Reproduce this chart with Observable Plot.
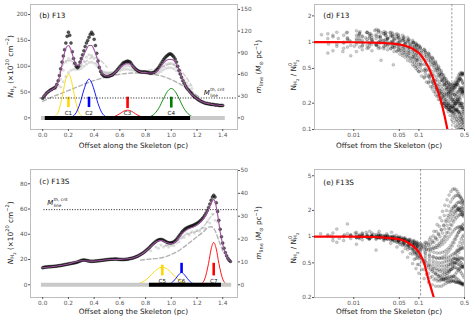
<!DOCTYPE html>
<html>
<head>
<meta charset="utf-8">
<script src="https://cdn.jsdelivr.net/npm/d3@7"></script>
<script src="https://cdn.jsdelivr.net/npm/@observablehq/plot@0.6"></script>
<style>
  html, body { margin: 0; padding: 0; background: #fff; }
  #fig { position: relative; width: 473px; height: 319px; overflow: hidden; background: #fff; }
  #fig svg { position: absolute; }
</style>
</head>
<body>
<div id="fig"></div>
<script>
// ================= DATA =================
// ---- (b) F13: column density along the skeleton ----
const bXTicks = [0, 0.2, 0.4, 0.6, 0.8, 1.0, 1.2, 1.4];
const bNTicks = [0, 50, 100, 150, 200];
const bMTicks = [0, 30, 60, 90, 120, 150];
const bNperM = 1.40;
const bProfileStart = 0.0, bProfileStep = 0.01;
const bProfileN = [38,42,45,48,50,52,54,55,57,58, 60,65,72,82,95,108,120,132,145,158, 166,160,145,128,115,106,100,97,100,108,
  115,122,130,138,145,150,156,162,166,162, 152,140,125,110,98,90,85,82,81,80, 80,80,81,82,83,85,87,90,93,96,
  99,102,105,107,108,109,110,109,108,105, 101,98,95,93,91,90,89,89,89,89, 89,88,88,87,87,87,88,89,91,94,
  97,101,105,109,113,116,119,121,123,124, 123,121,118,114,108,100,92,85,78,72, 67,62,58,55,52,49,46,43,41,39,
  37,35,34,32,31,30,29,28,28,27, 27,26,26,26,25,25,25,24,24,24, 24];
const bFitStart = 0.0, bFitStep = 0.02;
const bFitN = [40,45,50,53,56,60,70,90,115,135, 140,132,115,103,102,110,122,133,140,140, 132,118,100,88,82,81,81,83,87,92,
  97,101,104,105,104,100,95,91,89,88, 88,87,87,87,89,93,100,106,111,113, 113,111,104,93,80,68,58,51,45,41,
  37,34,31,29,28,27,26,25,25,24, 24];
const bGray1Start = 0.10, bGray1Step = 0.02;
const bGray1N = [56,62,75,92,108,115,112,104,98,97, 102,110,118,122,121,115,106,96,90,87, 86,86,87,89,92,95,98,100,101,100,
  97,94,92,91,90,90,89,88,88,89, 91,95,100,104,106,106,104,98,90,80, 70,62,55,50,45,41];
const bGray2Start = 0.14, bGray2Step = 0.02;
const bGray2N = [60,70,80,88,92,94,94,94,96,100, 104,107,108,106,101,95,91,89,88,88, 88,89,90,91,93,94,94,93,92,91,
  90,89,88,87,86,85,85,86,88,90, 93,96,97,97,95,91,86,80,74,68, 62,57];
const bDash1X = [0.0,0.05,0.15,0.25,0.35,0.45,0.55,0.65,0.75,0.85,0.95,1.05,1.15,1.22];
const bDash1N = [32,38,48,58,68,76,82,86,87,85,79,68,52,40];
const bDash2X = [0.13,0.16,0.19,0.24,0.29,0.34,0.39,0.44,0.5];
const bDash2N = [88,104,111,108,104,110,118,113,98];
const bDash3X = [0.82,0.88,0.94,1.0,1.05,1.1,1.16];
const bDash3N = [92,95,100,104,98,84,62];
const bComps = ["C1", "C2", "C3", "C4"];
const bCompCenter = [0.2, 0.36, 0.66, 1.0];
const bCompX = [
  [0.06,0.08,0.1,0.12,0.14,0.16,0.18,0.2,0.22,0.24,0.26,0.28,0.3,0.32,0.34],
  [0.2,0.23,0.26,0.29,0.32,0.345,0.36,0.375,0.4,0.43,0.46,0.49,0.52],
  [0.48,0.52,0.56,0.6,0.63,0.66,0.69,0.72,0.76,0.8,0.84],
  [0.78,0.82,0.86,0.9,0.94,0.97,1.0,1.03,1.06,1.1,1.14,1.18,1.22]];
const bCompN = [
  [0,1,4,11,28,52,75,85,75,52,28,11,4,1,0],
  [0.5,2.5,10,28,54,71,75,71,54,28,10,2.5,0.5],
  [0.2,0.6,2.9,8.1,12.9,15,12.9,8.1,2.9,0.6,0.2],
  [0.2,1.3,5.9,17.6,37.5,51.2,57,51.2,37.5,17.6,5.9,1.3,0.2]];
const bBarLow = [20, 20, 18, 19], bBarHigh = [40, 40, 40, 40];
const bCompLabelN = 9;
const bThreshold = 38.5, bThresholdFrom = -0.02;
const bSpanGray = [-0.01, 1.42], bSpanBlack = [0.02, 1.15];

// ---- (c) F13S ----
const cXTicks = [0, 0.2, 0.4, 0.6, 0.8, 1.0, 1.2, 1.4];
const cNTicks = [0, 20, 40, 60, 80];
const cMTicks = [0, 10, 20, 30, 40, 50];
const cNperM = 1.81;
const cProfileStart = 0.0, cProfileStep = 0.01;
const cProfileN = [13.5,13.8,14,14,14.2,14.3,14.3,14.4,14.5,14.6, 14.7,14.8,15,15.1,15.3,15.5,15.7,15.9,16.1,16.3,
  16.5,16.7,16.9,17.1,17.3,17.5,17.7,18,18.4,18.8, 19.2,19.5,19.6,19.5,19.3,19,18.8,18.7,18.6,18.6,
  18.7,18.8,18.9,19,19.1,19.2,19.4,19.5,19.6,19.8, 19.9,20,20.1,20.2,20.3,20.3,20.4,20.4,20.3,20.2,
  20.1,20,20,20,20.1,20.2,20.3,20.5,20.7,20.9, 21.2,21.5,21.9,22.3,22.8,23.3,23.9,24.5,25.2,26,
  26.8,27.7,28.6,29.6,30.6,31.6,32.6,33.5,34.3,35, 35.5,35.8,35.9,35.7,35.2,34.6,34,33.5,33.2,33.1,
  33.2,33.5,34,34.8,35.9,37.2,38.6,40,41.4,42.6, 43.6,44.4,45,45.5,45.9,46.3,46.7,47.1,47.6,48.1,
  48.7,49.4,50.2,51.1,52.2,53.5,55,56.8,58.8,61.2, 64,67,69.5,71,69.5,65,58,51,44,38,
  33,29,25.5,23,21,19.5,18.5];
const cFitX = [0,0.1,0.2,0.3,0.4,0.5,0.6,0.7,0.76,0.8,0.84,0.88,0.92,0.96,1.0,1.04,1.08,1.12,1.16,1.2,1.24,1.27,1.3,1.32,1.33,1.34,1.36,1.38,1.4,1.42,1.44,1.46];
const cFitN = [13.5,14.7,16.5,19,18.7,19.8,20.1,21.2,23.7,26.5,30.2,33.8,35.2,33.5,32.5,34.8,40,43.5,45.3,47.3,51,55.5,62,66.5,67.5,66,56,42,32,25,21,18.5];
const cGray1Start = 0.84, cGray1Step = 0.04;
const cGray1N = [27,30,31.5,31,31,33,37,40.5,42,43,45,50,56,50];
const cGray2Start = 0.90, cGray2Step = 0.04;
const cGray2N = [29,30,30,31,34,37.5,39.5,41,42.5,45,49,51];
const cDash1X = [0.76,0.85,0.9,0.95,1.0,1.05,1.1,1.15,1.2,1.25,1.28,1.31,1.34,1.37,1.4];
const cDash1N = [19.5,20.5,21,22,24,26.5,30,34,38,42,45,46,43,35,27];
const cDash2X = [0.95,1.0,1.05,1.1,1.15,1.2,1.25,1.3,1.33];
const cDash2N = [31,32,35,39,41,42.5,46,53,56];
const cComps = ["C5", "C6", "C7"];
const cCompCenter = [0.93, 1.08, 1.33];
const cCompX = [
  [0.69,0.73,0.77,0.81,0.85,0.89,0.93,0.97,1.01,1.05,1.09,1.13,1.17],
  [0.96,0.99,1.02,1.05,1.08,1.11,1.14,1.17,1.2],
  [1.2,1.23,1.26,1.29,1.31,1.33,1.35,1.37,1.4,1.43,1.46]];
const cCompN = [
  [0.2,0.6,1.9,4.5,8.5,12.3,14,12.3,8.5,4.5,1.9,0.6,0.2],
  [0.1,0.8,3.1,7.0,9.7,7.0,3.1,0.8,0.1],
  [0.03,0.6,4.5,17.0,28.3,33.5,28.3,17.0,4.5,0.6,0.03]];
const cBarLow = [7, 9, 7], cBarHigh = [15.5, 17, 17];
const cCompLabelN = 3.2;
const cThreshold = 59.5, cThresholdFrom = 0.01;
const cSpanGray = [-0.01, 1.47], cSpanBlack = [0.83, 1.39];

// ---- (d)/(e) radial profiles: offsets from the skeleton (pc) ----
const offsetsA = [0.004,0.007,0.011,0.016,0.022,0.029,0.037,0.046,0.056,0.067,0.08,0.09,
  0.10,0.12,0.14,0.16,0.18,0.20,0.22,0.24,0.26,0.28,0.30,0.32,0.34,0.36,0.38,0.40,0.42,0.44,0.46,0.48];
const offsetsB = [0.0055,0.009,0.0135,0.019,0.0255,0.033,0.0415,0.051,0.0615,0.0735,0.085,0.095,
  0.11,0.13,0.15,0.17,0.19,0.21,0.23,0.25,0.27,0.29,0.31,0.33,0.35,0.37,0.39,0.41,0.43,0.45,0.47,0.49];
const offsetsC = [0.0048,0.008,0.0122,0.0175,0.0238,0.031,0.0393,0.0485,0.0588,0.07,0.0825,0.0925,
  0.105,0.125,0.145,0.165,0.185,0.205,0.225,0.245,0.265,0.285,0.305,0.325,0.345,0.365,0.385,0.405,0.425,0.445,0.465,0.485];
const rXTicks = [0.01, 0.05, 0.1, 0.5];

// (d) F13
const dYTicks = [0.1, 0.2, 0.5, 1, 2];
const dProfiles = [
  [null,0.98,1.1,1.02,0.95,0.9,0.85,0.78,0.7,0.62,0.55,0.5, 0.46,0.4,0.35,0.31,0.27,0.24,0.22,0.2,0.19,0.18,0.17,0.16,0.15,0.14,0.13,0.125,0.12,0.115,0.11,0.105],
  [0.95,null,1.0,1.12,1.05,1.0,0.97,0.93,0.88,0.82,0.75,0.7, 0.62,0.55,0.48,0.42,0.37,0.33,0.29,0.26,0.24,0.22,0.21,0.2,0.2,0.21,0.22,0.23,0.22,0.2,0.18,0.16],
  [1.2,null,1.25,1.15,1.3,1.2,1.18,1.12,1.08,1.02,0.97,0.92, 0.88,0.8,0.72,0.64,0.56,0.49,0.43,0.38,0.34,0.31,0.29,0.28,0.28,0.3,0.33,0.36,0.38,0.37,0.34,0.3],
  [null,0.85,1.0,0.92,1.1,1.05,1.0,0.95,0.9,0.85,0.78,0.72, 0.64,0.56,0.48,0.42,0.36,0.31,0.27,0.24,0.22,0.2,0.19,0.18,0.175,0.17,0.165,0.16,0.15,0.14,0.13,0.12],
  [null,null,1.05,1.2,1.12,1.08,1.05,1.0,0.95,0.9,0.83,0.78, 0.73,0.65,0.58,0.51,0.45,0.4,0.36,0.33,0.3,0.28,0.27,0.26,0.25,0.24,0.22,0.2,0.19,0.18,0.17,0.16],
  [0.8,null,0.88,0.97,0.9,0.93,0.88,0.82,0.76,0.7,0.64,0.58, 0.51,0.44,0.39,0.34,0.3,0.28,0.26,0.25,0.25,0.26,0.28,0.3,0.32,0.33,0.33,0.32,0.3,0.28,0.26,0.24],
  [1.1,1.0,1.2,1.3,1.22,1.25,1.2,1.15,1.1,1.05,1.0,0.95, 0.9,0.82,0.74,0.66,0.58,0.51,0.45,0.4,0.36,0.33,0.31,0.3,0.3,0.31,0.33,0.35,0.38,0.41,0.43,0.44],
  [null,1.02,0.9,1.05,0.98,0.96,0.92,0.86,0.8,0.74,0.67,0.62, 0.55,0.48,0.42,0.37,0.32,0.28,0.24,0.21,0.19,0.17,0.16,0.145,0.135,0.125,0.115,0.11,0.105,0.1,0.095,0.09],
  [null,1.3,1.1,1.25,1.35,1.3,1.27,1.22,1.15,1.08,1.0,0.93, 0.86,0.76,0.67,0.58,0.5,0.43,0.37,0.33,0.29,0.26,0.24,0.22,0.21,0.2,0.2,0.21,0.23,0.25,0.27,0.28],
  [0.75,null,0.95,0.85,0.92,0.88,0.84,0.8,0.74,0.68,0.6,0.54, 0.46,0.39,0.34,0.29,0.25,0.22,0.2,0.19,0.18,0.17,0.165,0.16,0.16,0.165,0.17,0.18,0.19,0.2,0.2,0.19],
  [null,0.92,1.15,1.08,1.18,1.12,1.1,1.06,1.02,0.96,0.9,0.85, 0.8,0.72,0.64,0.57,0.5,0.44,0.39,0.35,0.32,0.3,0.29,0.29,0.3,0.32,0.35,0.37,0.38,0.37,0.35,0.33],
  [null,1.1,1.0,0.9,1.0,1.02,0.98,0.93,0.87,0.8,0.72,0.66, 0.58,0.5,0.43,0.37,0.33,0.29,0.26,0.23,0.21,0.2,0.19,0.18,0.175,0.17,0.165,0.16,0.16,0.155,0.15,0.145],
  [1.25,null,1.35,1.28,1.4,1.32,1.3,1.25,1.2,1.13,1.05,0.98, 0.92,0.83,0.75,0.67,0.6,0.53,0.47,0.42,0.38,0.35,0.33,0.32,0.32,0.33,0.35,0.38,0.41,0.43,0.44,0.43],
  [null,0.7,0.92,0.8,0.86,0.82,0.78,0.73,0.67,0.6,0.53,0.48, 0.41,0.35,0.31,0.27,0.24,0.22,0.2,0.185,0.175,0.17,0.165,0.16,0.155,0.15,0.14,0.135,0.13,0.125,0.12,0.115],
  [1.15,1.05,1.22,1.1,1.0,1.08,1.02,0.98,0.93,0.87,0.8,0.74, 0.68,0.6,0.53,0.46,0.4,0.35,0.31,0.28,0.26,0.24,0.23,0.22,0.22,0.23,0.25,0.27,0.29,0.3,0.3,0.29],
  [null,1.2,1.05,1.3,1.18,1.25,1.15,1.1,1.04,0.98,0.9,0.84, 0.78,0.7,0.62,0.55,0.48,0.42,0.37,0.33,0.3,0.27,0.25,0.23,0.21,0.19,0.17,0.16,0.15,0.14,0.135,0.13],
  [0.9,null,0.82,0.95,1.02,0.9,0.86,0.8,0.73,0.66,0.58,0.52, 0.47,0.41,0.36,0.32,0.29,0.26,0.24,0.22,0.2,0.19,0.18,0.18,0.19,0.2,0.22,0.24,0.26,0.27,0.27,0.26],
  [null,1.12,1.28,1.2,1.38,1.27,1.22,1.18,1.12,1.06,0.99,0.92, 0.85,0.77,0.69,0.61,0.54,0.48,0.43,0.39,0.36,0.34,0.33,0.33,0.34,0.36,0.39,0.42,0.44,0.45,0.44,0.42],
  [null,null,0.78,1.08,0.94,0.99,0.95,0.9,0.84,0.77,0.69,0.63, 0.56,0.48,0.41,0.35,0.3,0.26,0.23,0.2,0.18,0.16,0.145,0.13,0.12,0.11,0.105,0.1,0.1,0.1,0.1,0.1],
  [1.3,null,1.18,1.02,1.15,1.1,1.08,1.03,0.99,0.94,0.88,0.83, 0.77,0.69,0.61,0.54,0.47,0.41,0.36,0.32,0.29,0.27,0.26,0.25,0.25,0.26,0.27,0.28,0.29,0.29,0.28,0.27],
  [null,0.88,1.05,0.98,0.85,0.95,0.9,0.86,0.81,0.75,0.68,0.62, 0.55,0.47,0.4,0.34,0.29,0.25,0.22,0.2,0.19,0.18,0.18,0.185,0.19,0.2,0.21,0.21,0.2,0.19,0.18,0.17]];
const dScatterX = [0.0032,0.0041,0.0058,0.0068,0.0077,0.0085,0.0102,0.0118,0.0125,0.014,0.0152,0.0168,0.018,0.0195,0.021,0.0225,0.024,0.026,0.0275,0.029,
  0.031,0.033,0.0345,0.036,0.038,0.04,0.042,0.044,0.047,0.05,0.053,0.057,0.061,0.065,0.07,0.075,0.0262,0.0405];
const dScatterY = [1.22,0.95,1.1,0.78,1.28,1.05,0.9,1.18,1.32,0.98,1.12,0.86,1.25,1.02,1.36,0.92,1.15,1.3,1.05,0.84,
  1.2,1.1,0.95,1.28,1.02,1.15,0.88,1.22,1.0,1.12,0.8,1.05,0.95,0.72,0.88,0.65,0.62,0.55];
const dFitX = [0.0025,0.005,0.01,0.02,0.03,0.04,0.05,0.06,0.07,0.08,0.09,0.1,0.11,0.12,0.13,0.14,0.15,0.16,0.17,0.18,0.19,0.2,0.21,0.22,0.23,0.24,0.25,0.26,0.27,0.28];
const dFitY = [1,1,0.998,0.99,0.975,0.96,0.94,0.915,0.88,0.84,0.795,0.75,0.69,0.63,0.57,0.515,0.46,0.41,0.365,0.325,0.29,0.26,0.232,0.205,0.18,0.158,0.138,0.12,0.105,0.092];
const dEdge = 0.32;

// (e) F13S
const eYTicks = [0.2, 0.5, 1, 2, 5];
const eProfiles = [
  [null,1.02,0.98,1.03,1.0,0.99,0.97,0.95,0.92,0.88,0.83,0.79, 0.76,0.76,0.8,0.86,0.95,1.06,1.2,1.36,1.55,1.75,1.95,2.1,2.2,2.25,2.2,2.1,2.0,1.9,1.8,1.7],
  [1.22,null,1.04,1.0,1.02,1.0,0.98,0.96,0.93,0.9,0.86,0.82, 0.78,0.85,0.98,1.15,1.38,1.65,1.95,2.3,2.65,3.0,3.3,3.5,3.55,3.45,3.3,3.1,2.9,2.75,2.6,2.5],
  [null,null,1.0,0.95,0.99,0.97,0.94,0.9,0.86,0.81,0.75,0.7, 0.65,0.6,0.56,0.53,0.51,0.5,0.5,0.51,0.52,0.53,0.54,0.55,0.56,0.56,0.55,0.54,0.52,0.5,0.48,0.46],
  [null,1.0,1.06,1.02,1.05,1.03,1.0,0.97,0.93,0.88,0.82,0.77, 0.72,0.7,0.7,0.72,0.75,0.8,0.86,0.93,1.02,1.12,1.23,1.35,1.47,1.58,1.67,1.74,1.78,1.8,1.78,1.75],
  [0.86,null,0.92,1.0,0.96,0.94,0.9,0.85,0.8,0.74,0.67,0.61, 0.56,0.5,0.46,0.43,0.41,0.4,0.39,0.39,0.4,0.41,0.42,0.43,0.44,0.44,0.43,0.42,0.4,0.38,0.36,0.34],
  [null,null,1.05,1.15,1.04,1.02,1.0,0.98,0.96,0.93,0.9,0.87, 0.84,0.86,0.92,1.02,1.15,1.32,1.52,1.75,2.0,2.25,2.5,2.7,2.85,2.95,3.0,2.95,2.85,2.7,2.55,2.4],
  [1.02,null,1.0,1.06,1.0,0.98,0.95,0.91,0.86,0.8,0.73,0.66, 0.6,0.53,0.47,0.42,0.38,0.35,0.33,0.32,0.31,0.31,0.31,0.31,0.31,0.3,0.3,0.3,0.3,0.29,0.29,0.29],
  [null,1.05,1.1,1.0,1.03,1.01,0.99,0.96,0.92,0.87,0.82,0.78, 0.74,0.72,0.72,0.73,0.75,0.78,0.82,0.87,0.93,1.0,1.07,1.14,1.2,1.25,1.28,1.3,1.3,1.28,1.25,1.22],
  [null,1.4,0.95,1.0,0.97,0.95,0.92,0.88,0.83,0.77,0.7,0.64, 0.58,0.52,0.48,0.45,0.43,0.42,0.42,0.42,0.43,0.45,0.48,0.52,0.57,0.63,0.7,0.78,0.86,0.94,1.0,1.04],
  [null,0.9,0.82,0.98,0.7,0.96,0.92,0.86,0.79,0.71,0.63,0.56, 0.48,0.42,0.38,0.35,0.33,0.32,0.32,0.32,0.33,0.34,0.35,0.35,0.35,0.34,0.33,0.32,0.31,0.3,0.29,0.28],
  [null,1.04,1.08,1.1,1.05,1.04,1.02,1.0,0.97,0.93,0.89,0.85, 0.81,0.8,0.82,0.86,0.92,1.0,1.1,1.22,1.35,1.5,1.65,1.8,1.92,2.0,2.05,2.05,2.0,1.95,1.9,1.85],
  [0.9,null,1.0,0.94,0.98,0.97,0.96,0.93,0.9,0.86,0.81,0.76, 0.71,0.66,0.62,0.59,0.57,0.56,0.56,0.56,0.57,0.58,0.6,0.62,0.64,0.66,0.68,0.7,0.72,0.73,0.74,0.74],
  [null,null,0.98,1.0,0.95,0.9,0.84,0.76,0.67,0.58,0.49,0.43, 0.38,0.33,0.3,0.28,0.27,0.27,0.27,0.28,0.29,0.3,0.3,0.31,0.31,0.31,0.3,0.3,0.29,0.29,0.28,0.28],
  [null,null,1.0,1.02,0.97,0.93,0.88,0.81,0.73,0.64,0.55,0.48, 0.42,0.37,0.34,0.32,0.31,0.31,0.32,0.34,0.36,0.39,0.42,0.46,0.5,0.55,0.6,0.66,0.72,0.78,0.84,0.9],
  [null,1.08,1.0,0.96,1.02,1.0,0.97,0.94,0.9,0.85,0.79,0.74, 0.69,0.64,0.6,0.58,0.57,0.57,0.58,0.6,0.63,0.67,0.72,0.78,0.85,0.93,1.02,1.12,1.22,1.3,1.36,1.4],
  [1.05,null,1.12,0.98,1.0,1.01,0.99,0.97,0.94,0.91,0.88,0.85, 0.82,0.82,0.85,0.9,0.98,1.08,1.2,1.33,1.48,1.64,1.8,1.97,2.13,2.28,2.4,2.48,2.5,2.45,2.35,2.2],
  [null,0.95,1.0,1.02,0.98,0.95,0.91,0.86,0.8,0.73,0.65,0.58, 0.52,0.46,0.42,0.39,0.37,0.36,0.36,0.37,0.38,0.4,0.42,0.45,0.48,0.51,0.54,0.56,0.57,0.57,0.56,0.55],
  [0.98,null,1.03,1.0,1.08,1.02,1.0,0.98,0.95,0.91,0.87,0.83, 0.79,0.76,0.75,0.76,0.79,0.84,0.91,1.0,1.11,1.24,1.38,1.54,1.7,1.86,2.0,2.1,2.15,2.15,2.1,2.0],
  [null,null,0.97,1.0,0.93,0.95,0.91,0.87,0.82,0.76,0.69,0.62, 0.56,0.49,0.44,0.4,0.37,0.35,0.34,0.33,0.33,0.33,0.33,0.34,0.35,0.37,0.39,0.41,0.43,0.44,0.45,0.45],
  [null,1.03,1.0,1.05,1.0,0.98,0.96,0.93,0.9,0.86,0.82,0.78, 0.75,0.71,0.68,0.66,0.65,0.65,0.66,0.68,0.71,0.75,0.8,0.86,0.93,1.0,1.07,1.13,1.18,1.21,1.22,1.21],
  [1.1,null,1.0,0.96,1.0,0.97,0.94,0.9,0.85,0.79,0.72,0.66, 0.61,0.56,0.52,0.49,0.47,0.46,0.46,0.46,0.47,0.48,0.49,0.5,0.5,0.5,0.49,0.48,0.47,0.46,0.45,0.44]];
const eScatterX = [0.0031,0.0045,0.006,0.0072,0.0088,0.0105,0.012,0.0138,0.0155,0.017,0.0188,0.0205,0.0225,0.0245,0.027,0.029,0.032,0.035,0.038,0.041,0.045,0.049,0.054,0.059,0.064,0.07];
const eScatterY = [1.08,1.02,0.96,1.05,1.0,1.1,0.97,1.04,1.12,0.94,1.02,1.06,0.98,1.15,1.03,0.92,1.08,1.0,1.12,0.95,1.04,0.9,0.98,0.85,0.92,0.8];
const eFitX = [0.0025,0.005,0.01,0.02,0.03,0.04,0.05,0.06,0.07,0.08,0.09,0.1,0.11,0.12,0.13,0.14,0.15,0.16,0.17,0.175];
const eFitY = [1,1,0.998,0.99,0.975,0.955,0.93,0.895,0.84,0.785,0.725,0.66,0.58,0.5,0.4,0.32,0.27,0.23,0.198,0.185];
const eEdge = 0.106;

// ================= DRAWING =================
const FONT = "DejaVu Sans";
const FRAME = "#bdbdbd";
const STYLE = {fontFamily: FONT, fontSize: "5.8px", color: "#555", background: "transparent", overflow: "visible"};
const fig = document.getElementById("fig");

function series(start, step, values) {
  return values.map((v, i) => ({x: +(start + i * step).toFixed(4), y: v}));
}
function pairs(xs, ys) { return xs.map((x, i) => ({x, y: ys[i]})); }

function rich(svg, x, y, parts, opt = {}) {
  const size = opt.size ?? 7.3, anchor = opt.anchor ?? "middle", fill = opt.fill ?? "#222";
  const t = d3.select(svg).append("text")
    .attr("transform", `translate(${x},${y})${opt.rotate ? ` rotate(${opt.rotate})` : ""}`)
    .attr("text-anchor", anchor)
    .attr("font-family", FONT)
    .attr("font-size", size)
    .attr("fill", fill)
    .style("white-space", "pre");
  let cur = 0;
  for (const [s, lvl = 0, italic = false, dx = 0] of parts) {
    const off = lvl === 1 ? -0.42 * size : lvl === -1 ? 0.25 * size : lvl === -2 ? 0.42 * size : 0;
    const fs = lvl === 0 ? size : lvl === -2 ? 0.52 * size : 0.7 * size;
    const ts = t.append("tspan").attr("dy", (off - cur).toFixed(2)).attr("font-size", fs.toFixed(2)).text(s);
    if (italic) ts.attr("font-style", "italic");
    if (dx) ts.attr("dx", (dx * size).toFixed(2));
    cur = off;
  }
  return t;
}

function place(svg, left, top) {
  svg.style.left = left + "px";
  svg.style.top = top + "px";
  fig.appendChild(svg);
}

const AX = {tickSize: 2, tickPadding: 1, label: null};

function profilePanel(p) {
  const marks = [Plot.frame({stroke: FRAME})];
  for (const d of p.dashes) {
    marks.push(Plot.line(pairs(d.x, d.n), {x: "x", y: "y", stroke: d.color, strokeWidth: 1.4, strokeDasharray: "4,2.5", curve: "monotone-x"}));
  }
  for (const g of p.grays) {
    marks.push(Plot.dot(g, {x: "x", y: "y", r: 1.5, fill: "#8a8a8a", fillOpacity: 0.3, stroke: "none"}));
  }
  p.comps.forEach((name, i) => {
    marks.push(Plot.line(pairs(p.compX[i], p.compN[i]), {x: "x", y: "y", stroke: p.colors[i], strokeWidth: 0.9, curve: "monotone-x"}));
  });
  marks.push(Plot.ruleY([{y: 0, x1: p.spanGray[0], x2: p.spanGray[1]}], {y: "y", x1: "x1", x2: "x2", stroke: "#c9c9c9", strokeWidth: 4}));
  marks.push(Plot.ruleY([{y: 0, x1: p.spanBlack[0], x2: p.spanBlack[1]}], {y: "y", x1: "x1", x2: "x2", stroke: "#000", strokeWidth: 4}));
  p.comps.forEach((name, i) => {
    marks.push(Plot.ruleX([{x: p.compCenter[i], y1: p.barLow[i], y2: p.barHigh[i]}], {x: "x", y1: "y1", y2: "y2", stroke: p.colors[i], strokeWidth: 2.6}));
  });
  marks.push(Plot.text(p.comps, {x: p.compCenter, y: p.comps.map(() => p.compLabelN), text: d => d, fill: "#111", fontSize: 5.6}));
  marks.push(Plot.ruleY([{y: p.threshold, x1: p.thresholdFrom, x2: p.xDomain[1]}], {y: "y", x1: "x1", x2: "x2", stroke: "#000", strokeWidth: 0.9, strokeDasharray: "1,1.6"}));
  marks.push(Plot.dot(p.profile, {x: "x", y: "y", r: 1.5, fill: "#111", fillOpacity: 0.7, stroke: "#000", strokeWidth: 0.4, strokeOpacity: 0.8}));
  marks.push(Plot.line(p.fit, {x: "x", y: "y", stroke: "#a052a0", strokeWidth: 1.1, curve: "monotone-x"}));
  marks.push(Plot.axisX(p.xTicks, {...AX, tickFormat: d3.format(".1f")}));
  marks.push(Plot.axisY(p.nTicks, {...AX, anchor: "left"}));
  marks.push(Plot.axisY(p.mTicks.map(m => m * p.nPerM), {...AX, anchor: "right",
    tickFormat: d => String(Math.round(d / p.nPerM))}));
  return Plot.plot({
    width: p.width, height: p.height,
    marginLeft: p.margin[0], marginRight: p.margin[1], marginTop: p.margin[2], marginBottom: p.margin[3],
    x: {domain: p.xDomain}, y: {domain: p.yDomain},
    style: STYLE, marks
  });
}

function ratioPanel(p) {
  const grids = [offsetsA, offsetsB, offsetsC];
  const pts = p.profiles.flatMap((vals, k) => {
    const xs = grids[k % 3];
    return vals.map((v, j) => ({x: xs[j], y: v})).filter(d => d.y != null);
  }).concat(pairs(p.scatterX, p.scatterY));
  return Plot.plot({
    width: p.width, height: p.height,
    marginLeft: p.margin[0], marginRight: p.margin[1], marginTop: p.margin[2], marginBottom: p.margin[3],
    x: {type: "log", domain: p.xDomain}, y: {type: "log", domain: p.yDomain},
    style: STYLE,
    marks: [
      Plot.frame({stroke: FRAME}),
      Plot.dot(pts, {x: "x", y: "y", r: 1.5, fill: "#000", fillOpacity: 0.2, stroke: "#000", strokeOpacity: 0.3, strokeWidth: 0.4, clip: true}),
      Plot.ruleX([p.edge], {stroke: "#777", strokeWidth: 0.7, strokeDasharray: "2.5,1.5"}),
      Plot.line(pairs(p.fitX, p.fitY), {x: "x", y: "y", stroke: "#ff0000", strokeWidth: 2.2, curve: "monotone-x", clip: true}),
      // tick marks from the axes; labels drawn as text so that every value is shown on the log scales
      Plot.axisX(rXTicks, {...AX, fill: "none"}),
      Plot.axisY(p.yTicks, {...AX, anchor: "left", fill: "none"}),
      Plot.text(rXTicks, {x: d => d, text: d => String(d), frameAnchor: "bottom", lineAnchor: "top", dy: 3, fill: "#555"}),
      Plot.text(p.yTicks, {y: d => d, text: d => String(d), frameAnchor: "left", textAnchor: "end", dx: -3, fill: "#555"})
    ]
  });
}

const xDomainProfile = [-0.095, 1.515];

// (b)
const svgB = profilePanel({
  width: 275, height: 155, margin: [30, 38, 4, 26],
  xDomain: xDomainProfile, yDomain: [-22.5, 219.5],
  xTicks: bXTicks, nTicks: bNTicks, mTicks: bMTicks, nPerM: bNperM,
  profile: series(bProfileStart, bProfileStep, bProfileN),
  fit: series(bFitStart, bFitStep, bFitN),
  grays: [series(bGray1Start, bGray1Step, bGray1N), series(bGray2Start, bGray2Step, bGray2N)],
  dashes: [{x: bDash1X, n: bDash1N, color: "#b3b3b3"}, {x: bDash2X, n: bDash2N, color: "#d0d0d0"}, {x: bDash3X, n: bDash3N, color: "#d0d0d0"}],
  comps: bComps, compCenter: bCompCenter, compX: bCompX, compN: bCompN,
  colors: ["gold", "blue", "red", "green"],
  barLow: bBarLow, barHigh: bBarHigh, compLabelN: bCompLabelN,
  threshold: bThreshold, thresholdFrom: bThresholdFrom,
  spanGray: bSpanGray, spanBlack: bSpanBlack
});
place(svgB, 0, 0);

// (c)
const svgC = profilePanel({
  width: 275, height: 164, margin: [30, 38, 14, 22],
  xDomain: xDomainProfile, yDomain: [-10.1, 91.3],
  xTicks: cXTicks, nTicks: cNTicks, mTicks: cMTicks, nPerM: cNperM,
  profile: series(cProfileStart, cProfileStep, cProfileN),
  fit: pairs(cFitX, cFitN),
  grays: [series(cGray1Start, cGray1Step, cGray1N), series(cGray2Start, cGray2Step, cGray2N)],
  dashes: [{x: cDash1X, n: cDash1N, color: "#b3b3b3"}, {x: cDash2X, n: cDash2N, color: "#d0d0d0"}],
  comps: cComps, compCenter: cCompCenter, compX: cCompX, compN: cCompN,
  colors: ["gold", "blue", "red"],
  barLow: cBarLow, barHigh: cBarHigh, compLabelN: cCompLabelN,
  threshold: cThreshold, thresholdFrom: cThresholdFrom,
  spanGray: cSpanGray, spanBlack: cSpanBlack
});
place(svgC, 0, 155);

// (d)
const svgD = ratioPanel({
  width: 198, height: 155, margin: [39, 9, 4, 26],
  xDomain: [0.0025, 0.5], yDomain: [0.1, 2.7], yTicks: dYTicks,
  profiles: dProfiles, scatterX: dScatterX, scatterY: dScatterY, fitX: dFitX, fitY: dFitY, edge: dEdge
});
place(svgD, 275, 0);

// (e)
const svgE = ratioPanel({
  width: 198, height: 164, margin: [39, 9, 14, 22],
  xDomain: [0.0025, 0.5], yDomain: [0.2, 5.9], yTicks: eYTicks,
  profiles: eProfiles, scatterX: eScatterX, scatterY: eScatterY, fitX: eFitX, fitY: eFitY, edge: eEdge
});
place(svgE, 275, 155);

// ---- titles and labels ----
const nLabel = [["N", 0, true], ["H", -1], ["2", -2], [" (×10"], ["20", 1], [" cm"], ["−2", 1], [")"]];
const mLabel = [["m", 0, true], ["line", -1], [" ("], ["M", 0, true], ["⊙", -1], [" pc"], ["−1", 1], [")"]];
const ratioLabel = [["N"], ["H", -1], ["2", -2], [" / N"], ["0", 1], ["H", -1, false, -0.42], ["2", -2]];

function mLineLabel(svg, x, y) {
  const sx = svg.scale("x").apply(x), sy = svg.scale("y").apply(y);
  rich(svg, sx, sy, [["M", 0, true]], {anchor: "start", size: 7, fill: "#111"});
  rich(svg, sx + 6.4, sy - 4.2, [["th, crit"]], {anchor: "start", size: 4.3, fill: "#111"});
  rich(svg, sx + 6.4, sy + 1.3, [["line"]], {anchor: "start", size: 4.3, fill: "#111"});
}

rich(svgB, 12.5, 66.5, nLabel, {rotate: -90});
rich(svgB, 261, 66.5, mLabel, {rotate: -90});
rich(svgB, 133.5, 148, [["Offset along the Skeleton (pc)"]]);
rich(svgB, 39.3, 18.3, [["(b) F13"]], {anchor: "start", fill: "#111"});
mLineLabel(svgB, 1.257, 42.5);

rich(svgC, 12.5, 77.8, nLabel, {rotate: -90});
rich(svgC, 261, 77.8, mLabel, {rotate: -90});
rich(svgC, 133.5, 158.5, [["Offset along the Skeleton (pc)"]]);
rich(svgC, 39.3, 29, [["(c) F13S"]], {anchor: "start", fill: "#111"});
mLineLabel(svgC, 0.039, 62.5);

rich(svgD, 20.5, 75, ratioLabel, {rotate: -90});
rich(svgD, 114, 148, [["Offset from the Skeleton (pc)"]]);
rich(svgD, 48.3, 18, [["(d) F13"]], {anchor: "start", fill: "#111"});

rich(svgE, 20.5, 93, ratioLabel, {rotate: -90});
rich(svgE, 114, 158.5, [["Offset from the Skeleton (pc)"]]);
rich(svgE, 48.3, 30, [["(e) F13S"]], {anchor: "start", fill: "#111"});
</script>
</body>
</html>
